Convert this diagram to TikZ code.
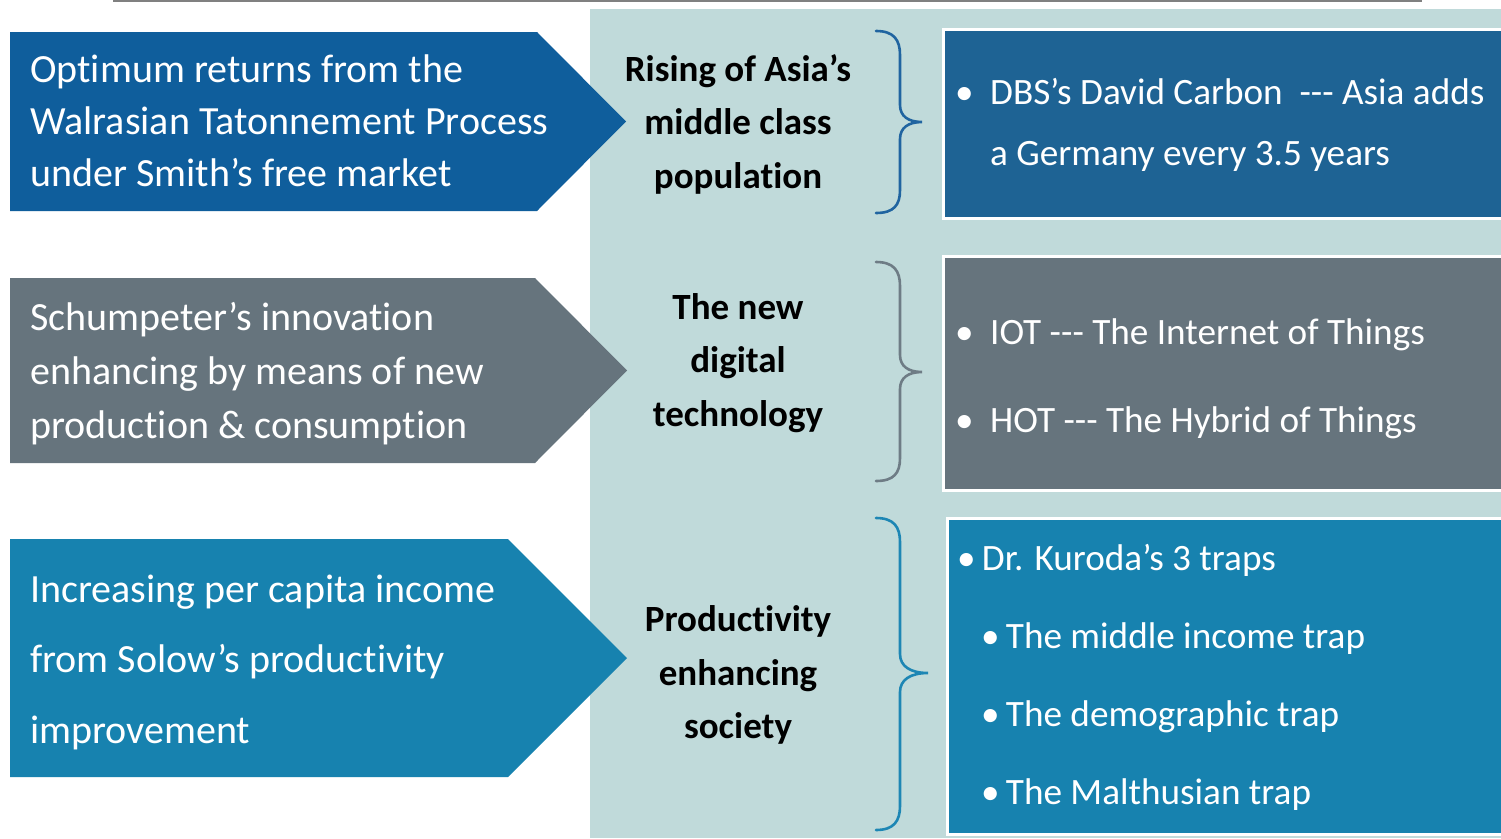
\documentclass[tikz,border=0pt]{standalone}
\usepackage{fontspec}
\setmainfont{Carlito}[Ligatures=NoCommon]
\definecolor{blueA}{HTML}{0F5E9C}
\definecolor{blueAbox}{HTML}{1E6394}
\definecolor{grayB}{HTML}{66747D}
\definecolor{tealC}{HTML}{1782AF}
\definecolor{panelbg}{HTML}{C0DADA}
\definecolor{braceA}{HTML}{2064A0}
\definecolor{braceB}{HTML}{6E7C85}
\definecolor{braceC}{HTML}{1D86B4}
\tikzset{
  arrowtext/.style={anchor=west, align=left, text=white, inner sep=0pt,
    font=\fontsize{40}{52}\selectfont},
  midlabel/.style={align=center, inner sep=0pt, text=black,
    font=\bfseries\fontsize{37}{53.5}\selectfont},
  boxtext/.style={anchor=west, align=left, text=white, inner sep=0pt,
    font=\fontsize{37.2}{61}\selectfont},
  infobox/.style={draw=white, line width=3pt, anchor=north west, inner sep=0pt},
  bracepath/.style={line width=2.6pt, line cap=round}
}
\begin{document}
\begin{tikzpicture}[x=1pt,y=-1pt]
\useasboundingbox (0,0) rectangle (1501,838);
\fill[white] (0,0) rectangle (1501,838);
% top rule
\draw[line width=2pt, color=gray] (113,1) -- (1422,1);
% light panel
\node[fill=panelbg, anchor=north west, minimum width=913pt, minimum height=829pt, inner sep=0pt] (panel) at (590,9) {};
% arrows
\fill[blueA] (10,32) -- (537,32) -- (626,121.5) -- (537,211) -- (10,211) -- cycle;
\fill[grayB] (10,278) -- (535,278) -- (627,370.5) -- (535,463) -- (10,463) -- cycle;
\fill[tealC] (10,539) -- (508,539) -- (627,658) -- (508,777) -- (10,777) -- cycle;
\node[arrowtext] (a1) at (30,121) {Optimum returns from the\\Walrasian Tatonnement Process\\under Smith’s free market};
\node[arrowtext, font=\fontsize{40}{54}\selectfont] (a2) at (30,373.5) {Schumpeter’s innovation\\enhancing by means of new\\production \& consumption};
\node[arrowtext, font=\fontsize{40}{70.5}\selectfont] (a3) at (30,662) {Increasing per capita income\\from Solow’s productivity\\improvement};
% middle labels
\node[midlabel] (m1) at (738,124) {Rising of Asia’s\\middle class\\population};
\node[midlabel] (m2) at (738,363) {The new\\digital\\technology};
\node[midlabel] (m3) at (738,675) {Productivity\\enhancing\\society};
% braces
\draw[bracepath, braceA] (876,31) .. controls (894,31) and (900,40) .. (900,55) -- (900,105)
  .. controls (900,116) and (908,122) .. (922,122) .. controls (908,122) and (900,128) .. (900,139)
  -- (900,190) .. controls (900,205) and (894,213) .. (876,213);
\draw[bracepath, braceB] (876,262) .. controls (894,262) and (900,271) .. (900,286) -- (900,355)
  .. controls (900,366) and (908,372) .. (922,372) .. controls (908,372) and (900,378) .. (900,389)
  -- (900,458) .. controls (900,473) and (894,481) .. (876,481);
\draw[bracepath, braceC] (876,518) .. controls (894,518) and (900,527) .. (900,542) -- (900,654)
  .. controls (900,666) and (910,673) .. (928,673) .. controls (910,673) and (900,680) .. (900,692)
  -- (900,806) .. controls (900,821) and (894,830) .. (876,830);
% right boxes
\node[infobox, fill=blueAbox, minimum width=565pt, minimum height=189pt] (b1) at (941.5,27.5) {};
\node[infobox, fill=grayB, minimum width=565pt, minimum height=234pt] (b2) at (941.5,254.5) {};
\node[infobox, fill=tealC, minimum width=560pt, minimum height=316pt] (b3) at (945.5,516.5) {};
\node[boxtext] (t1) at (955,125) {\makebox[35pt][l]{•}DBS’s David Carbon\ \ -{}-{}- Asia adds\\\hspace*{35pt}a Germany every 3.5 years};
\node[boxtext, font=\fontsize{37.2}{88}\selectfont] (t2) at (955,379) {\makebox[35pt][l]{•}IOT -{}-{}- The Internet of Things\\\makebox[35pt][l]{•}HOT -{}-{}- The Hybrid of Things};
\node[boxtext, font=\fontsize{37.2}{78}\selectfont] (t3) at (957,677) {•\,Dr. Kuroda’s 3 traps\\\hspace*{24pt}•\,The middle income trap\\\hspace*{24pt}•\,The demographic trap\\\hspace*{24pt}•\,The Malthusian trap};
\end{tikzpicture}
\end{document}
